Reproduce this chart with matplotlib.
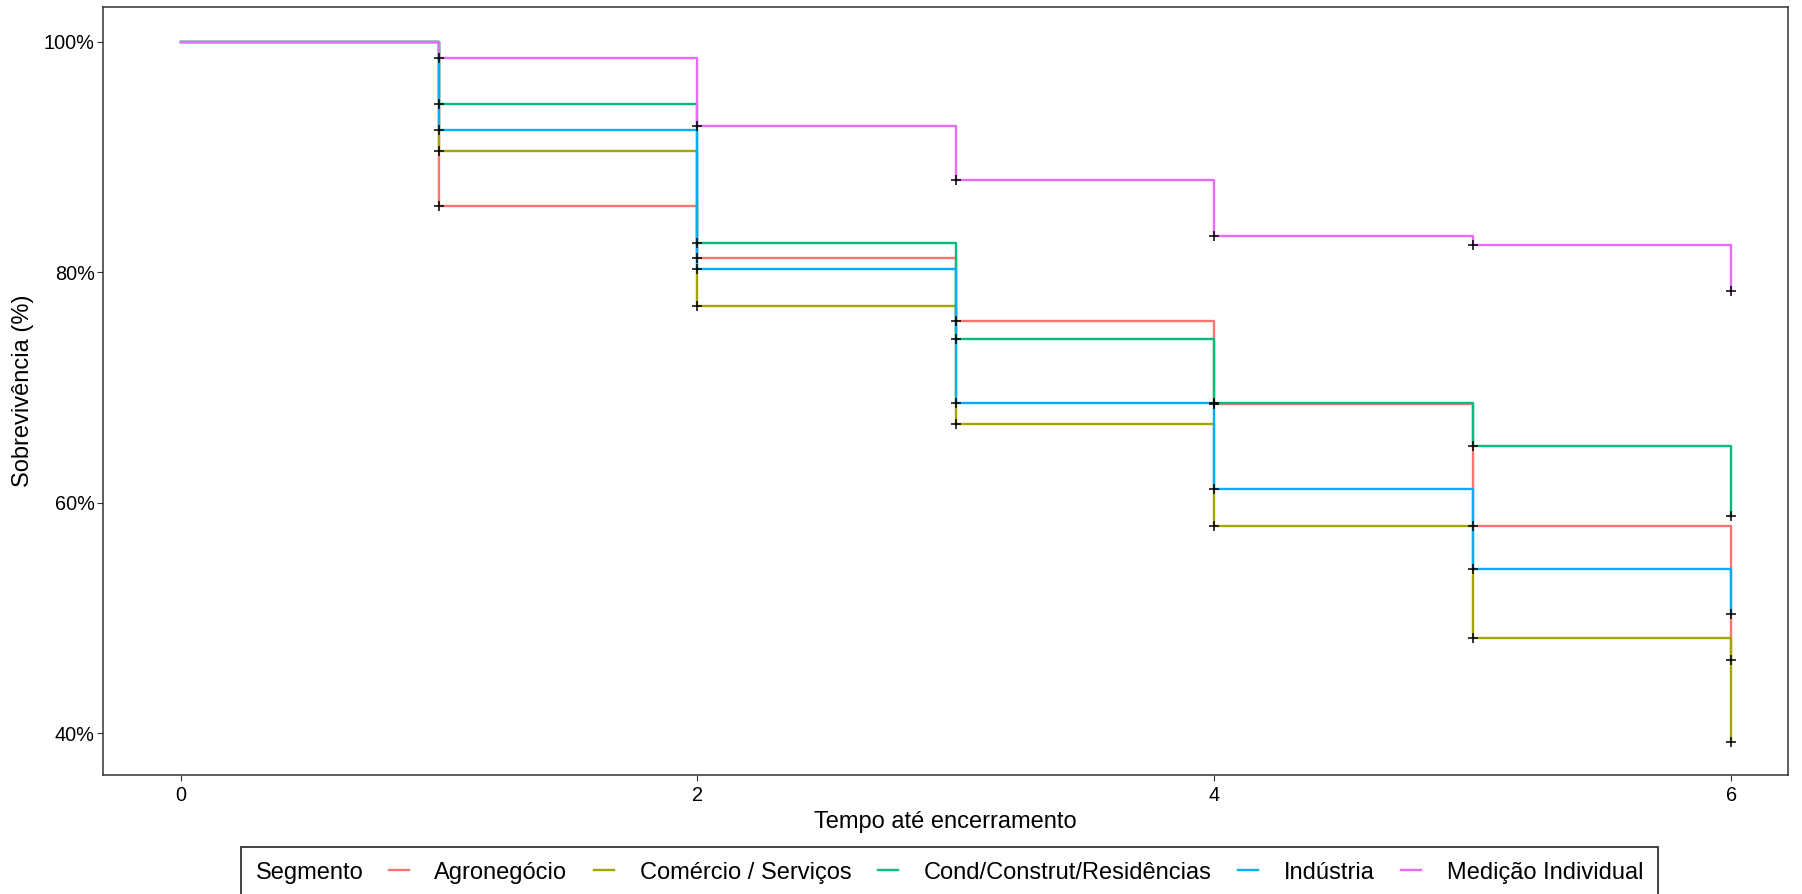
import matplotlib
matplotlib.use("Agg")
import matplotlib.pyplot as plt
from matplotlib.ticker import FuncFormatter
from matplotlib.offsetbox import HPacker
from matplotlib.lines import Line2D

plt.rcParams['font.family'] = ['Liberation Sans', 'DejaVu Sans']

# survival curve values (%) per segment, at times 0..6
tempo = [0, 1, 2, 3, 4, 5, 6]
segmentos = ["Agronegócio", "Comércio / Serviços", "Cond/Construt/Residências",
             "Indústria", "Medição Individual"]
agro = [100, 85.7, 81.2, 75.8, 68.6, 58.0, 46.4]
comercio = [100, 90.5, 77.1, 66.8, 58.0, 48.3, 39.3]
cond = [100, 94.6, 82.5, 74.2, 68.7, 64.9, 58.9]
industria = [100, 92.3, 80.3, 68.7, 61.2, 54.3, 50.4]
medicao = [100, 98.6, 92.7, 88.0, 83.1, 82.4, 78.4]
cores = ["#F8766D", "#A3A500", "#00BF7D", "#00B0F6", "#E76BF3"]

fig = plt.figure(figsize=(18.02, 8.94), dpi=100)
ax = fig.add_axes([0.0572, 0.1331, 0.935, 0.8591])

for nome, vals, cor in zip(segmentos, [agro, comercio, cond, industria, medicao], cores):
    ax.plot(tempo, vals, drawstyle="steps-post", color=cor, lw=1.7, label=nome)
for vals in [agro, comercio, cond, industria, medicao]:
    ax.plot(tempo[1:], vals[1:], ls="none", marker="+", ms=7, mew=1.1, color="black")

ax.set_xlim(-0.3, 6.22)
ax.set_ylim(36.4, 103.0)
ax.set_xticks([0, 2, 4, 6])
ax.set_yticks([40, 60, 80, 100])
ax.yaxis.set_major_formatter(FuncFormatter(lambda v, p: f"{v:.0f}%"))
ax.tick_params(labelsize=14.3, color="#333333", length=4, pad=2, labelcolor="black")
ax.tick_params(axis="x", pad=4)
for s in ax.spines.values():
    s.set_color("#333333")
    s.set_linewidth(1.1)

ax.set_xlabel("Tempo até encerramento", fontsize=17, labelpad=4)
ax.set_ylabel("Sobrevivência (%)", fontsize=17, labelpad=7)

fs = 17
handles = [Line2D([], [], color=c, lw=1.7) for c in cores]
leg = fig.legend(handles, segmentos, title="Segmento", loc="upper center",
                 bbox_to_anchor=(0.527, 0.0526), ncol=5, fontsize=fs,
                 title_fontsize=fs, frameon=True, fancybox=False,
                 edgecolor="black", handlelength=0.84, handletextpad=1.08,
                 columnspacing=1.14, borderpad=0.45, borderaxespad=0)
leg.get_frame().set_linewidth(1.3)
# put the title on the same row as the entries
box = HPacker(pad=leg.borderpad * fs * 100 / 72, sep=18, align="center",
              children=[leg._legend_title_box, leg._legend_handle_box])
box.set_figure(fig)
box.set_offset(leg._findoffset)
leg._legend_box = box

fig.savefig("out.png", dpi=100)
